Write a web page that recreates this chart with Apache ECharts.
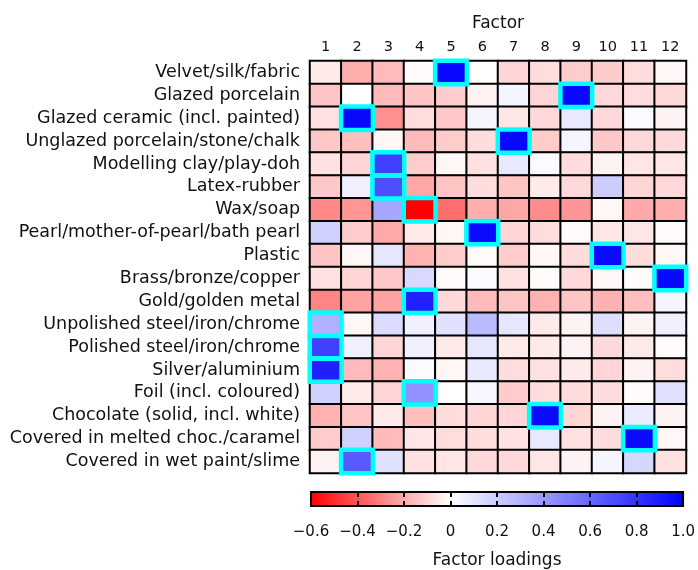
<!DOCTYPE html>
<html>
<head>
<meta charset="utf-8">
<script src="https://cdn.jsdelivr.net/npm/echarts@6/dist/echarts.min.js"></script>
<style>html,body{margin:0;padding:0;background:#fff;}#c{width:698px;height:570px;}</style>
</head>
<body>
<div id="c"></div>
<script>
const materials = [
  "Velvet/silk/fabric",
  "Glazed porcelain",
  "Glazed ceramic (incl. painted)",
  "Unglazed porcelain/stone/chalk",
  "Modelling clay/play-doh",
  "Latex-rubber",
  "Wax/soap",
  "Pearl/mother-of-pearl/bath pearl",
  "Plastic",
  "Brass/bronze/copper",
  "Gold/golden metal",
  "Unpolished steel/iron/chrome",
  "Polished steel/iron/chrome",
  "Silver/aluminium",
  "Foil (incl. coloured)",
  "Chocolate (solid, incl. white)",
  "Covered in melted choc./caramel",
  "Covered in wet paint/slime"
];
const factors = ["1","2","3","4","5","6","7","8","9","10","11","12"];

// factor loadings, one row per material (columns = factors 1..12)
const loadings = [
  [-0.05,-0.19,-0.16,-0.01, 0.97, 0.00,-0.10,-0.08,-0.12,-0.12,-0.08,-0.02],
  [-0.14, 0.00,-0.16,-0.14,-0.12,-0.03, 0.04,-0.10, 0.97,-0.09,-0.08,-0.09],
  [-0.07, 0.97,-0.26,-0.08,-0.13, 0.04,-0.06,-0.09, 0.09,-0.09, 0.02,-0.03],
  [-0.13,-0.15,-0.02,-0.16,-0.12,-0.08, 0.97,-0.12, 0.04,-0.13,-0.09,-0.09],
  [-0.07,-0.10, 0.75,-0.12,-0.02,-0.07, 0.09, 0.02,-0.08,-0.03,-0.06,-0.06],
  [-0.13, 0.06, 0.69,-0.21,-0.14,-0.08,-0.14,-0.05,-0.09, 0.20,-0.10,-0.09],
  [-0.28,-0.25, 0.35,-0.60,-0.34,-0.19,-0.21,-0.27,-0.25,-0.02,-0.20,-0.19],
  [ 0.18,-0.12,-0.20,-0.05,-0.02, 0.96,-0.10,-0.08,-0.01,-0.06,-0.06,-0.01],
  [-0.14,-0.02, 0.10,-0.18,-0.12,-0.01,-0.12,-0.02,-0.08, 0.96,-0.08,-0.02],
  [-0.07,-0.10,-0.13, 0.15,-0.01, 0.02,-0.07,-0.01,-0.09,-0.02,-0.01, 0.97],
  [-0.29,-0.22,-0.22, 0.87,-0.09,-0.16,-0.14,-0.18,-0.14,-0.18,-0.15, 0.04],
  [ 0.31,-0.02, 0.14, 0.06, 0.12, 0.27, 0.10,-0.05,-0.03, 0.13,-0.03, 0.06],
  [ 0.75, 0.06,-0.10, 0.06,-0.05, 0.10,-0.05,-0.05,-0.03,-0.09,-0.05,-0.01],
  [ 0.88,-0.16,-0.18, 0.02,-0.02, 0.09,-0.08,-0.07,-0.05,-0.10,-0.03,-0.08],
  [ 0.18,-0.05,-0.10, 0.43, 0.00, 0.03,-0.12,-0.08,-0.08,-0.08,-0.01, 0.12],
  [-0.18,-0.14,-0.05,-0.15,-0.08,-0.10,-0.10, 0.96,-0.10,-0.03, 0.08,-0.03],
  [-0.12, 0.18,-0.16,-0.06,-0.08,-0.08,-0.07, 0.09,-0.07,-0.08, 0.96,-0.02],
  [-0.03, 0.65, 0.12,-0.07,-0.06,-0.09,-0.09,-0.06,-0.03, 0.04, 0.16,-0.07]
];

// highlighted (dominant) factor per material: [materialIndex, factorIndex]
const highlights = [
  [0,4],[1,8],[2,1],[3,6],[4,2],[5,2],[6,3],[7,5],[8,9],
  [9,11],[10,3],[11,0],[12,0],[13,0],[14,3],[15,7],[16,10],[17,1]
];

const colorbarTicks = [-0.6,-0.4,-0.2,0,0.2,0.4,0.6,0.8,1.0];
const vMin = colorbarTicks[0], vMax = colorbarTicks[colorbarTicks.length - 1];

const cellData = [];
loadings.forEach((row, r) => row.forEach((v, c) => cellData.push([c, r, v])));
const hlData = highlights.map(([r, c]) => [c, r, loadings[r][c]]);

const FONT = "DejaVu Sans";
const chart = echarts.init(document.getElementById('c'), null, {renderer: 'canvas'});

const stopColors = ['#ff0000','#ff5555','#ffaaaa','#ffffff','#ccccff','#9999ff','#6666ff','#3333ff','#0000ff'];
const zeroPos = (0 - vMin) / (vMax - vMin);

function fmtTick(v) {
  if (Math.abs(v) < 1e-9) return '0';
  const s = Math.abs(v).toFixed(1);
  return v < 0 ? '\u2212' + s : s;
}

const frameLine = {show: true, onZero: false, lineStyle: {color: '#000', width: 2}};
const innerTick = {show: true, inside: true, length: 5, lineStyle: {color: '#000', width: 2}};

chart.setOption({
  animation: false,
  backgroundColor: '#fff',
  textStyle: {fontFamily: FONT},
  grid: [
    {left: 310, right: 12, top: 61, height: 412, containLabel: false},
    {left: 311, right: 13, top: 492, height: 27, containLabel: false}
  ],
  xAxis: [
    {
      type: 'category', gridIndex: 0, data: factors, position: 'top',
      axisLine: {show: false}, axisTick: {show: false},
      axisLabel: {color: '#111', fontSize: 14.5, fontFamily: FONT, margin: 6, interval: 0},
      name: 'Factor', nameLocation: 'middle', nameGap: 29, nameMoveOverlap: false,
      nameTextStyle: {color: '#111', fontSize: 17, fontFamily: FONT}
    },
    {
      type: 'value', gridIndex: 1, min: vMin, max: vMax, interval: 0.2, position: 'bottom', z: 10,
      splitLine: {show: false},
      axisLine: frameLine,
      axisTick: innerTick,
      axisLabel: {color: '#111', fontSize: 15, fontFamily: FONT, margin: 19, formatter: fmtTick},
      name: 'Factor loadings', nameLocation: 'middle', nameGap: 46, nameMoveOverlap: false,
      nameTextStyle: {color: '#111', fontSize: 17, fontFamily: FONT}
    },
    {
      type: 'value', gridIndex: 1, min: vMin, max: vMax, interval: 0.2, position: 'top', z: 10,
      splitLine: {show: false}, axisLine: frameLine, axisLabel: {show: false},
      axisTick: innerTick
    }
  ],
  yAxis: [
    {
      type: 'category', gridIndex: 0, data: materials, inverse: true,
      axisLine: {show: false}, axisTick: {show: false},
      axisLabel: {color: '#111', fontSize: 17.5, fontFamily: FONT, margin: 10, interval: 0}
    },
    {
      type: 'value', gridIndex: 1, min: 0, max: 1, position: 'left', z: 10,
      axisLine: frameLine, axisTick: {show: false}, axisLabel: {show: false}, splitLine: {show: false}
    },
    {
      type: 'value', gridIndex: 1, min: 0, max: 1, position: 'right', z: 10,
      axisLine: frameLine, axisTick: {show: false}, axisLabel: {show: false}, splitLine: {show: false}
    }
  ],
  visualMap: {
    show: false, type: 'continuous', seriesIndex: 0, dimension: 2,
    min: vMin, max: vMax, inRange: {color: stopColors}
  },
  series: [
    {
      type: 'heatmap', xAxisIndex: 0, yAxisIndex: 0, data: cellData,
      itemStyle: {borderColor: '#000', borderWidth: 2},
      emphasis: {disabled: true}
    },
    {
      type: 'heatmap', xAxisIndex: 0, yAxisIndex: 0, data: hlData, z: 3,
      itemStyle: {color: 'rgba(0,0,0,0)', borderColor: '#00ffff', borderWidth: 4.5},
      emphasis: {disabled: true}
    },
    {
      type: 'custom', xAxisIndex: 1, yAxisIndex: 1, data: [[vMin, vMax]],
      renderItem: function (params, api) {
        const p0 = api.coord([api.value(0), 1]);
        const p1 = api.coord([api.value(1), 0]);
        return {
          type: 'rect',
          shape: {x: p0[0], y: p0[1], width: p1[0] - p0[0], height: p1[1] - p0[1]},
          style: {
            fill: new echarts.graphic.LinearGradient(0, 0, 1, 0, [
              {offset: 0, color: '#ff0000'},
              {offset: zeroPos, color: '#ffffff'},
              {offset: 1, color: '#0000ff'}
            ]),
            stroke: '#000', lineWidth: 2
          }
        };
      }
    }
  ]
});
</script>
</body>
</html>
